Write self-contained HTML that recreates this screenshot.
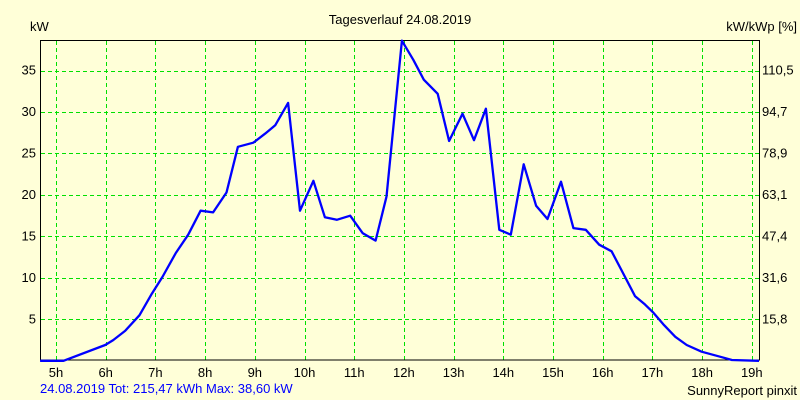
<!DOCTYPE html>
<html><head><meta charset="utf-8"><style>
html,body{margin:0;padding:0;background:#ffffd8;}
svg{display:block;font-family:"Liberation Sans",sans-serif;font-size:13px;}
</style></head><body>
<svg id="chart" width="800" height="400" viewBox="0 0 800 400">
<rect x="0" y="0" width="800" height="400" fill="#ffffd8"/>
<text x="400" y="24" text-anchor="middle" fill="#000">Tagesverlauf 24.08.2019</text>
<text x="30" y="31" fill="#000">kW</text>
<text x="797" y="31" text-anchor="end" fill="#000">kW/kWp [%]</text>
<g id="grid"></g>
<g id="ticks"></g>
<rect x="40.5" y="40.5" width="719" height="319.5" fill="none" stroke="#000" stroke-width="1"/>
<polyline id="line" fill="none" stroke="#0000ff" stroke-width="2.3" stroke-linejoin="round"/>
<text x="40" y="393" fill="#0000ff">24.08.2019 Tot: 215,47 kWh Max: 38,60 kW</text>
<text x="797" y="395" text-anchor="end" fill="#000">SunnyReport pinxit</text>
</svg>
<script>
const hours = [4.68,5.15,5.99,6.15,6.39,6.68,6.93,7.14,7.41,7.66,7.91,8.16,8.43,8.66,8.97,9.21,9.41,9.67,9.91,10.18,10.41,10.65,10.92,11.17,11.43,11.65,11.82,11.96,12.19,12.40,12.68,12.91,13.18,13.41,13.65,13.92,14.15,14.41,14.66,14.89,15.16,15.41,15.66,15.93,16.18,16.38,16.65,16.85,17.02,17.22,17.46,17.69,17.99,18.36,18.60,19.15];
const powerKw = [0,0,1.9,2.5,3.6,5.5,8.1,10.1,13.0,15.2,18.1,17.9,20.3,25.8,26.3,27.4,28.4,31.1,18.1,21.7,17.3,17.0,17.5,15.4,14.5,19.8,30.2,38.6,36.3,33.9,32.2,26.5,29.8,26.6,30.4,15.8,15.2,23.7,18.7,17.1,21.6,16.0,15.8,14.0,13.2,10.9,7.8,6.8,5.8,4.4,2.9,1.9,1.1,0.5,0.1,0];
const hourTicks = [5,6,7,8,9,10,11,12,13,14,15,16,17,18,19];
const kwTicks = [5,10,15,20,25,30,35];
const pctTicks = ["15,8","31,6","47,4","63,1","78,9","94,7","110,5"];

const NS = "http://www.w3.org/2000/svg";
const X = h => 56 + (h - 5) * 49.7;
const Y = v => 360.8 - v * 8.293;
const clampX = x => Math.max(40, Math.min(759, x));
const grid = document.getElementById('grid');
const ticks = document.getElementById('ticks');
function mk(tag, attrs, parent){const e=document.createElementNS(NS,tag);for(const k in attrs)e.setAttribute(k,attrs[k]);parent.appendChild(e);return e;}
hourTicks.forEach(h=>{
  const x = Math.round(X(h))+0.5;
  const l = mk('line',{x1:x,y1:41,x2:x,y2:360,stroke:'#00e000','stroke-dasharray':'4,3'},grid);
  
  
  const t = mk('text',{x:X(h),y:377,'text-anchor':'middle',fill:'#000'},ticks);
  t.textContent = h+'h';
  
  
});
kwTicks.forEach((v,i)=>{
  const y = Math.round(Y(v))+0.5;
  const l = mk('line',{x1:41,y1:y,x2:759,y2:y,stroke:'#00e000','stroke-dasharray':'4,3'},grid);
  
  
  const t = mk('text',{x:36,y:Y(v)+4,'text-anchor':'end',fill:'#000'},ticks);
  t.textContent = v;
  
  
  const t2 = mk('text',{x:762,y:Y(v)+4,fill:'#000'},ticks);
  t2.textContent = pctTicks[i];
  
  
});
document.getElementById('line').setAttribute('points', hours.map((h,i)=>clampX(X(h)).toFixed(1)+','+Y(powerKw[i]).toFixed(1)).join(' '));
</script>
</body></html>
